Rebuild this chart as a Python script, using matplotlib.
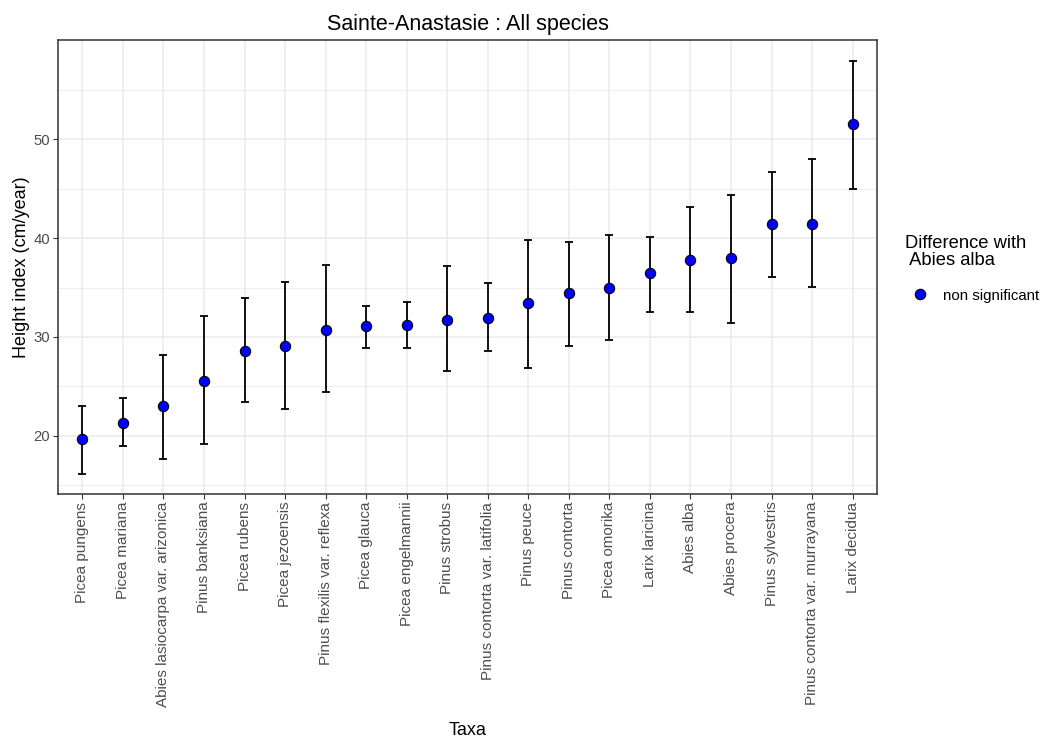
import matplotlib.pyplot as plt
from matplotlib.lines import Line2D

plt.rcParams['font.family'] = ['Liberation Sans', 'DejaVu Sans']

# Height index per taxon (mean with lower / upper interval)
taxa = ['Picea pungens', 'Picea mariana', 'Abies lasiocarpa var. arizonica',
        'Pinus banksiana', 'Picea rubens', 'Picea jezoensis',
        'Pinus flexilis var. reflexa', 'Picea glauca', 'Picea engelmannii',
        'Pinus strobus', 'Pinus contorta var. latifolia', 'Pinus peuce',
        'Pinus contorta', 'Picea omorika', 'Larix laricina', 'Abies alba',
        'Abies procera', 'Pinus sylvestris', 'Pinus contorta var. murrayana',
        'Larix decidua']
mean = [19.66, 21.3, 23.0, 25.54, 28.55, 29.05, 30.7, 31.08, 31.25, 31.72,
        31.89, 33.41, 34.42, 34.93, 36.42, 37.77, 37.94, 41.45, 41.45, 51.52]
lower = [16.15, 19.0, 17.67, 19.16, 23.38, 22.7, 24.4, 28.9, 28.9, 26.55,
         28.55, 26.86, 29.05, 29.73, 32.57, 32.57, 31.39, 36.11, 35.1, 45.0]
upper = [23.0, 23.85, 28.2, 32.13, 33.95, 35.6, 37.3, 33.1, 33.58, 37.13,
         35.44, 39.8, 39.63, 40.27, 40.14, 43.14, 44.36, 46.69, 48.0, 57.9]

x = list(range(1, len(taxa) + 1))
err_lo = [m - l for m, l in zip(mean, lower)]
err_hi = [u - m for m, u in zip(mean, upper)]

fig = plt.figure(figsize=(10.45, 7.38), dpi=100)
ax = fig.add_axes([58 / 1045, 1 - 494 / 738, (877 - 58) / 1045, (494 - 40) / 738])

ax.errorbar(x, mean, yerr=[err_lo, err_hi], fmt='none', ecolor='black',
            elinewidth=1.3, capsize=3, capthick=1.3, zorder=3)
ax.scatter(x, mean, s=55, c='#0000FF', edgecolors='black', linewidths=0.8, zorder=4)

ax.set_xlim(0.4, len(taxa) + 0.6)
ax.set_ylim(14.1, 60.05)
ax.set_xticks(x)
ax.set_xticklabels(taxa, rotation=90, fontsize=11, color='#4D4D4D')
ax.set_yticks([20, 30, 40, 50])
ax.set_yticks([15, 25, 35, 45, 55], minor=True)
ax.tick_params(axis='y', labelsize=10.7, labelcolor='#4D4D4D')
ax.tick_params(which='major', color='#333333', length=3.8, width=0.8, pad=1.7)
ax.tick_params(which='minor', length=0)

ax.grid(True, which='major', color='#EBEBEB', linewidth=1.1)
ax.grid(True, which='minor', color='#EBEBEB', linewidth=0.6)
ax.set_axisbelow(True)
for s in ax.spines.values():
    s.set_color('#333333')
    s.set_linewidth(1.1)

ax.set_title('Sainte-Anastasie : All species', fontsize=15.5, pad=7)
ax.set_ylabel('Height index (cm/year)', fontsize=13, labelpad=3)
ax.set_xlabel('Taxa', fontsize=13)
ax.xaxis.set_label_coords(0.5, -(722 - 494) / 454)

handle = Line2D([], [], marker='o', linestyle='none', markersize=7.5,
                markerfacecolor='#0000FF', markeredgecolor='black',
                markeredgewidth=0.8)
leg = fig.legend([handle], ['non significant'], title='Difference with\n Abies alba',
                 loc='upper left', bbox_to_anchor=(899 / 1045, 1 - 229 / 738),
                 frameon=False, fontsize=10.8, title_fontsize=13.2,
                 handletextpad=0.55, labelspacing=1.3, borderaxespad=0)
leg._legend_box.align = 'left'
leg.get_title().set_linespacing(1.0)

fig.savefig('out.png', dpi=100)
